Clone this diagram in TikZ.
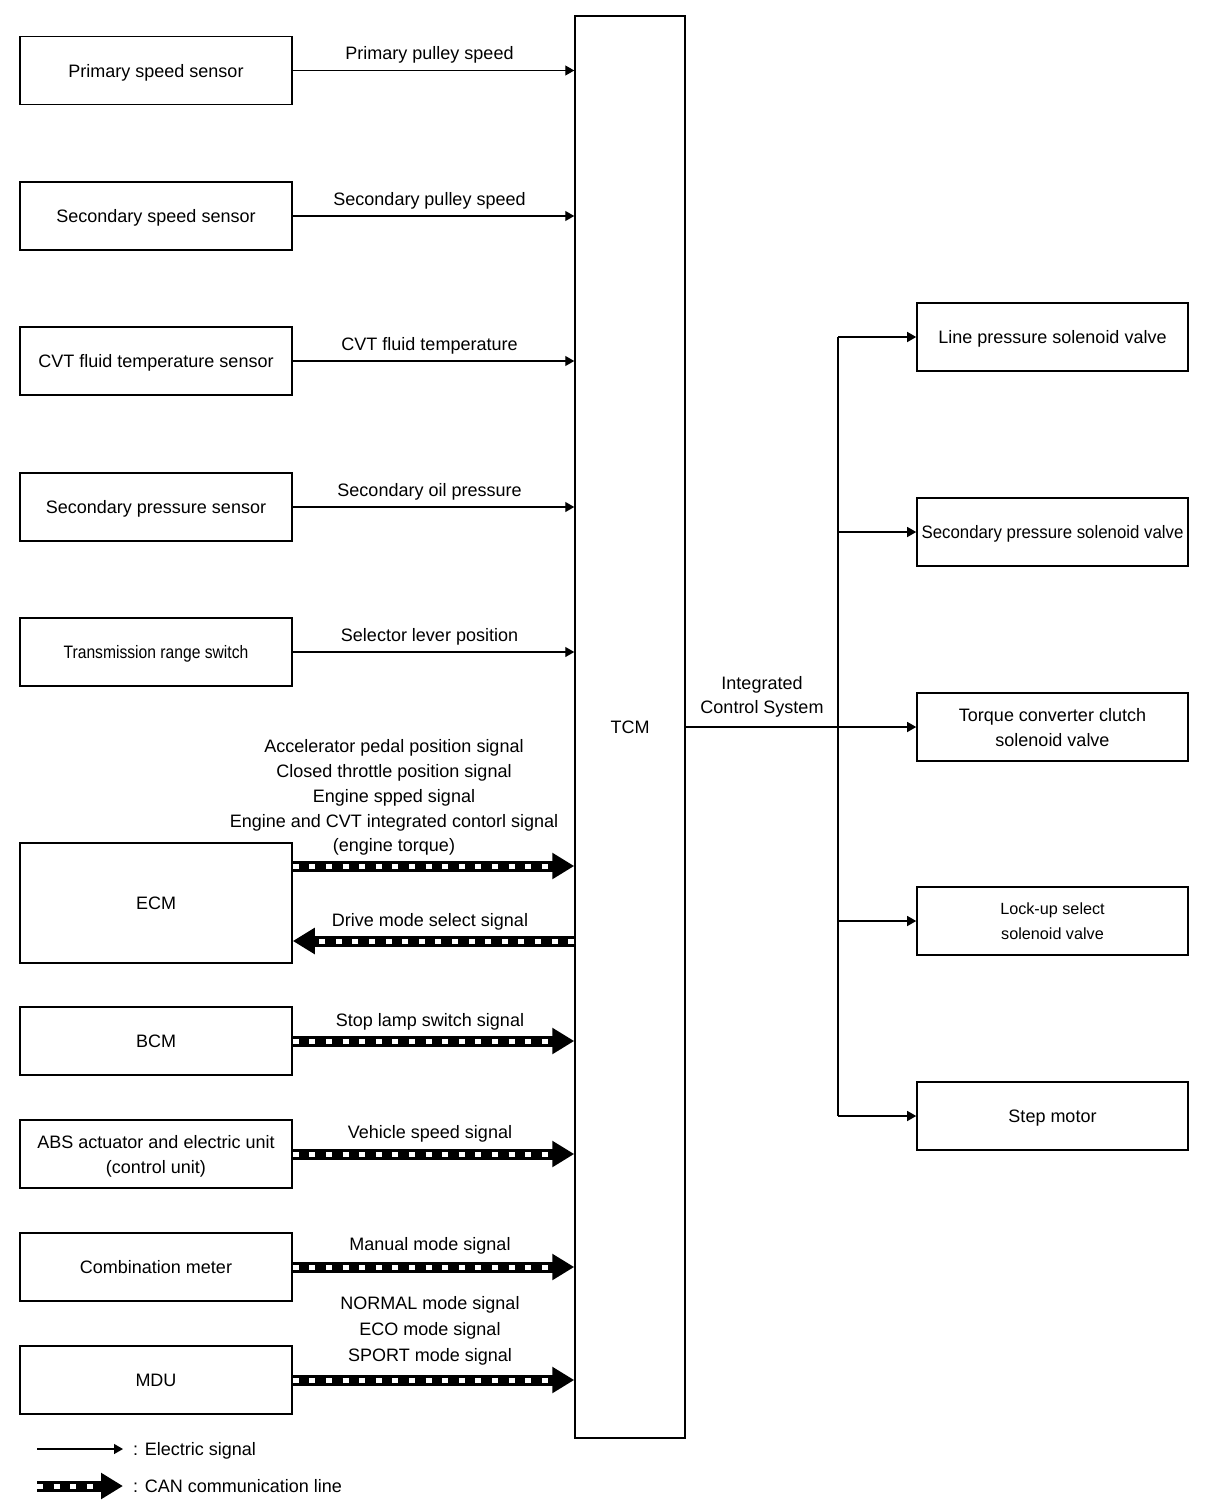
\documentclass[tikz,border=0pt]{standalone}
\usepackage{fontspec}
\setmainfont{Liberation Sans}
\usetikzlibrary{arrows.meta,calc}
\begin{document}
\begin{tikzpicture}[x=1pt,y=-1pt,
  box/.style={draw, line width=1.6pt, minimum width=272pt, minimum height=68pt, inner sep=0pt, align=center, text depth=0pt, font=\fontsize{18}{25}\selectfont},
  rbox/.style={box, minimum width=271pt},
  sig/.style={line width=1.3pt, -{Triangle[length=9pt,width=10pt]}},
  lbl/.style={font=\fontsize{18}{25}\selectfont, align=center, inner sep=0pt, text depth=0pt},
  canline/.style={line width=11pt, -{Triangle[length=22pt,width=25pt]},
    postaction={draw=white, -, line width=5pt, dash pattern=on 6pt off 10.6pt, shorten >=22pt}}
]
\useasboundingbox (0,0) rectangle (1216,1510);
% TCM
\node[draw, line width=1.5pt, minimum width=110pt, minimum height=1422pt, inner sep=0pt, font=\fontsize{18}{25}\selectfont] (tcm) at (630,727) {TCM};
% left boxes
\node[box] (pss) at (156,70.5) {Primary speed sensor};
\node[box] (sss) at (156,216) {Secondary speed sensor};
\node[box] (cvt) at (156,361) {CVT fluid temperature sensor};
\node[box] (spr) at (156,507) {Secondary pressure sensor};
\node[box] (trs) at (156,652) {\scalebox{0.87}[1]{Transmission range switch}};
\node[box, minimum height=120pt] (ecm) at (156,903) {ECM};
\node[box] (bcm) at (156,1041) {BCM};
\node[box] (abs) at (156,1154) {ABS actuator and electric unit\\(control unit)};
\node[box] (cmb) at (156,1267) {Combination meter};
\node[box] (mdu) at (156,1380) {MDU};
% right boxes
\node[rbox] (lps) at (1052.5,337) {Line pressure solenoid valve};
\node[rbox] (sps) at (1052.5,532) {\scalebox{0.935}[1]{Secondary pressure solenoid valve}};
\node[rbox] (tcc) at (1052.5,727) {Torque converter clutch\\solenoid valve};
\node[rbox] (lus) at (1052.5,921) {\scalebox{0.9}{Lock-up select}\\\scalebox{0.9}{solenoid valve}};
\node[rbox] (stm) at (1052.5,1116) {Step motor};
% electric signals
\draw[sig] (pss.east) -- (pss.east -| tcm.west) node[midway, lbl, above=10pt, xshift=-4pt] {Primary pulley speed};
\draw[sig] (sss.east) -- (sss.east -| tcm.west) node[midway, lbl, above=10pt, xshift=-4pt] {Secondary pulley speed};
\draw[sig] (cvt.east) -- (cvt.east -| tcm.west) node[midway, lbl, above=10pt, xshift=-4pt] {CVT fluid temperature};
\draw[sig] (spr.east) -- (spr.east -| tcm.west) node[midway, lbl, above=10pt, xshift=-4pt] {Secondary oil pressure};
\draw[sig] (trs.east) -- (trs.east -| tcm.west) node[midway, lbl, above=10pt, xshift=-4pt] {Selector lever position};
% CAN lines
\coordinate (e1) at ($(ecm.east)+(0,-37)$);
\coordinate (e2) at ($(ecm.east)+(0,38)$);
\draw[canline] (e1) -- (e1 -| tcm.west);
\node[lbl, font=\fontsize{18}{24.75}\selectfont, anchor=south] (ecmlbl) at (394,852) {Accelerator pedal position signal\\Closed throttle position signal\\Engine spped signal\\Engine and CVT integrated contorl signal\\(engine torque)};
\draw[canline] (e2 -| tcm.west) -- (e2);
\node[lbl, anchor=base] (dms) at (430,926) {Drive mode select signal};
\draw[canline] (bcm.east) -- (bcm.east -| tcm.west);
\node[lbl, anchor=base] (sls) at (430,1026) {Stop lamp switch signal};
\draw[canline] (abs.east) -- (abs.east -| tcm.west);
\node[lbl, anchor=base] (vss) at (430,1138) {Vehicle speed signal};
\draw[canline] (cmb.east) -- (cmb.east -| tcm.west);
\node[lbl, anchor=base] (mms) at (430,1250) {Manual mode signal};
\draw[canline] (mdu.east) -- (mdu.east -| tcm.west);
\node[lbl, font=\fontsize{18}{26}\selectfont, anchor=south] (mds) at (430,1362) {NORMAL mode signal\\ECO mode signal\\SPORT mode signal};
% right side
\coordinate (j) at (838,727);
\draw[line width=1.3pt] (tcm.east |- j) -- (j);
\node[lbl, font=\fontsize{18}{24}\selectfont, anchor=south] (ics) at (762,714) {Integrated\\Control System};
\draw[line width=1.3pt] (lps.west -| j) -- (stm.west -| j);
\draw[sig] (lps.west -| j) -- (lps.west);
\draw[sig] (sps.west -| j) -- (sps.west);
\draw[sig] (tcc.west -| j) -- (tcc.west);
\draw[sig] (lus.west -| j) -- (lus.west);
\draw[sig] (stm.west -| j) -- (stm.west);
% legend
\coordinate (l1a) at (37,1449); \coordinate (l1b) at (123,1449);
\coordinate (l2a) at (37,1486); \coordinate (l2b) at (123,1486);
\draw[sig] (l1a) -- (l1b);
\node[lbl, anchor=base west] (leg1) at (133,1455) {: Electric signal};
\draw[canline] (l2a) -- (l2b);
\node[lbl, anchor=base west] (leg2) at (133,1492) {: CAN communication line};
\end{tikzpicture}
\end{document}
